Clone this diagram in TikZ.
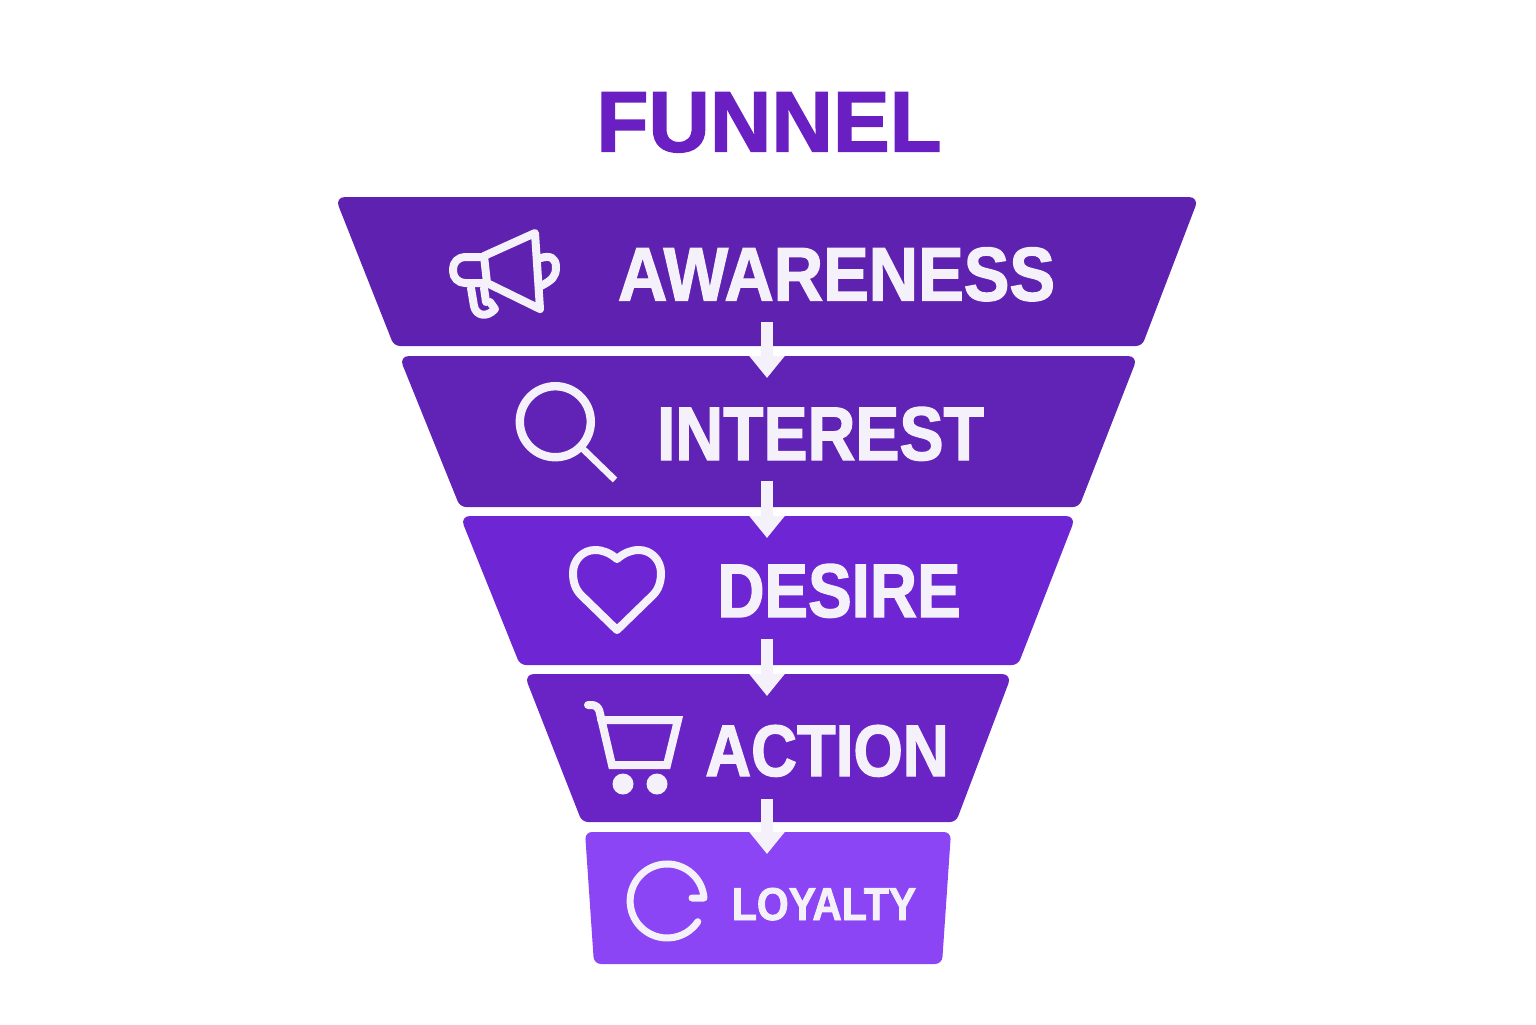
\documentclass[tikz,border=0pt]{standalone}
\usepackage{fontspec}
\setmainfont{Liberation Sans}[BoldFeatures={FakeBold=1.7}]
\usetikzlibrary{arrows.meta}
\definecolor{tierA}{HTML}{5F21B0}
\definecolor{tierB}{HTML}{6122B6}
\definecolor{tierC}{HTML}{6E25D3}
\definecolor{tierD}{HTML}{6A24C6}
\definecolor{tierE}{HTML}{8B45F4}
\definecolor{titlecol}{HTML}{6A1FC2}
\definecolor{iconcol}{HTML}{F4F1FB}
\tikzset{
	tierlabel/.style={text=iconcol,anchor=base,inner sep=0pt},
	flow/.style={draw=iconcol,line width=6pt,-{Triangle[length=11pt,width=17pt]}},
	icon/.style={draw=iconcol,line width=4pt,line join=round,line cap=round},
}
\begin{document}
\begin{tikzpicture}[x=0.5pt,y=-0.5pt]
	\useasboundingbox (0,0) rectangle (1536,1024);
	% funnel tiers
	\fill[tierA] [rounded corners=5pt] (335,197) -- (1199,197) [rounded corners=3pt] -- (1142,346) -- (394,346) [rounded corners=5pt] -- cycle;
	\fill[tierB] [rounded corners=5pt] (399,356) -- (1138,356) [rounded corners=3pt] -- (1079,507) -- (460,507) [rounded corners=5pt] -- cycle;
	\fill[tierC] [rounded corners=5pt] (460,516) -- (1076,516) [rounded corners=3pt] -- (1018,665) -- (520,665) [rounded corners=5pt] -- cycle;
	\fill[tierD] [rounded corners=5pt] (524,674) -- (1012,674) [rounded corners=3pt] -- (956,822) -- (582,822) [rounded corners=5pt] -- cycle;
	\fill[tierE,rounded corners=3.5pt] (585,832) -- (951,832) -- (942,964) -- (594,964) -- cycle;
	% labels
	\node[text=titlecol,font=\fontsize{43}{43}\bfseries\addfontfeature{FakeStretch=0.99,FakeBold=3},anchor=base,inner sep=0pt] (title) at (769,151.5) {FUNNEL};
	\node[tierlabel,font=\fontsize{38}{38}\bfseries\addfontfeature{FakeStretch=0.9}] (awareness) at (836.5,300.5) {AWARENESS};
	\node[tierlabel,font=\fontsize{38}{38}\bfseries\addfontfeature{FakeStretch=0.87}] (interest) at (820.5,460) {INTEREST};
	\node[tierlabel,font=\fontsize{38}{38}\bfseries\addfontfeature{FakeStretch=0.86}] (desire) at (839,617) {DESIRE};
	\node[tierlabel,font=\fontsize{36.5}{36.5}\bfseries\addfontfeature{FakeStretch=0.87}] (action) at (827,776) {ACTION};
	\node[tierlabel,font=\fontsize{23}{23}\bfseries\addfontfeature{FakeStretch=0.89}] (loyalty) at (824,920) {LOYALTY};
	% arrows between tiers
	\foreach \name/\ya/\yb in {one/322/378,two/481/538,three/639/696,four/799/854} {
		\coordinate (\name a) at (767,\ya);
		\coordinate (\name b) at (767,\yb);
		\draw[flow] (\name a) -- (\name b);
	}
	% megaphone
	\draw[icon] (484,256) -- (535,233) -- (540,309) -- (487,283) -- cycle;
	\draw[icon,rounded corners=6pt] (484,257) -- (453,257) -- (453,283) -- (486,283);
	\draw[icon] (471,288) -- (474,306) .. controls (476,316) and (487,318) .. (495,309) -- (490,302);
	\draw[icon] (484,288) -- (486,302);
	\draw[icon] (541,258) .. controls (550,255) and (556,258) .. (556,267) .. controls (556,277) and (552,280) .. (541,286);
	% magnifier
	\draw[icon,line width=4.2pt] (555.3,421.7) circle (35.5);
	\draw[icon,line width=3.3pt,line cap=butt] (582,448) -- (615,480);
	% heart
	\draw[icon] (617,630) -- (581,595) .. controls (575,589) and (573,581) .. (573,573)
		.. controls (573,560) and (583,550) .. (595,550) .. controls (603,550) and (610,553) .. (617,559)
		.. controls (624,553) and (631,550) .. (639,550) .. controls (651,550) and (661,560) .. (661,573)
		.. controls (661,581) and (659,589) .. (653,595) -- cycle;
	% cart
	\draw[icon,line join=miter] [rounded corners=3pt] (588,705) -- (598,705) [sharp corners] -- (612,765) -- (667,765) -- (678,720) -- (601,720);
	\fill[iconcol] (623,784) circle (10.5) (657,784) circle (10.5);
	% refresh
	\draw[icon,line width=3.5pt] (692,898) -- (704,898) arc (-4.6:-326:37);
\end{tikzpicture}
\end{document}
